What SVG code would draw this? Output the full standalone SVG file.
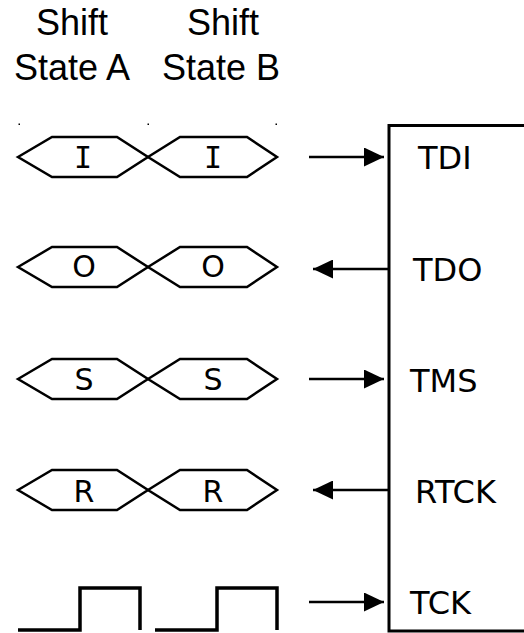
<svg xmlns="http://www.w3.org/2000/svg" width="524" height="633" viewBox="0 0 524 633">
  <style>
    .hdr { font-family: "Liberation Sans", Arial, sans-serif; font-size: 36px; fill: #000; text-anchor: middle; }
    .sym { font-family: "DejaVu Sans", Verdana, sans-serif; font-size: 30px; fill: #000; text-anchor: middle; }
    .symI { font-family: "DejaVu Sans Mono", "DejaVu Sans", monospace; font-size: 30px; fill: #000; text-anchor: middle; }
    .pin { font-family: "DejaVu Sans", Verdana, sans-serif; font-size: 32px; fill: #000; }
    .hex { fill: none; stroke: #000; stroke-width: 2.5; stroke-linejoin: miter; }
    .wire { fill: none; stroke: #000; stroke-width: 2.5; }
    .clk { fill: none; stroke: #000; stroke-width: 3.5; stroke-linejoin: miter; }
    .box { fill: none; stroke: #000; stroke-width: 3; }
  </style>
  <defs>
    <marker id="head" markerWidth="20" markerHeight="19" refX="20" refY="9.5" orient="auto" markerUnits="userSpaceOnUse">
      <path d="M0,0 L20,9.5 L0,19 Z" fill="#000"/>
    </marker>
    <!-- two-cell shift register symbol, centred vertically on y=0 -->
    <g id="cells">
      <path class="hex" d="M18,0 L52,-20 L117,-20 L148,0 L117,20 L52,20 Z"/>
      <path class="hex" d="M148,0 L180,-20 L247,-20 L277,0 L247,20 L180,20 Z"/>
    </g>
  </defs>

  <g id="header">
    <text class="hdr" x="72" y="35">Shift</text>
    <text class="hdr" x="72" y="80">State A</text>
    <text class="hdr" x="223" y="35">Shift</text>
    <text class="hdr" x="221" y="80">State B</text>
  </g>

  <g id="ticks" fill="#000">
    <rect x="18.5" y="123.5" width="1.5" height="1.5"/>
    <rect x="147.5" y="123.5" width="1.5" height="1.5"/>
    <rect x="275.5" y="123.5" width="1.5" height="1.5"/>
  </g>

  <g id="tdi-cells">
    <use href="#cells" y="157"/>
    <text class="symI" x="83" y="168">I</text>
    <text class="symI" x="213" y="168">I</text>
  </g>
  <g id="tdo-cells">
    <use href="#cells" y="267"/>
    <text class="sym" x="84" y="277">O</text>
    <text class="sym" x="213" y="277">O</text>
  </g>
  <g id="tms-cells">
    <use href="#cells" y="379"/>
    <text class="sym" x="84" y="390">S</text>
    <text class="sym" x="213" y="390">S</text>
  </g>
  <g id="rtck-cells">
    <use href="#cells" y="490"/>
    <text class="sym" x="84" y="502">R</text>
    <text class="sym" x="213" y="502">R</text>
  </g>
  <g id="tck-wave">
    <path class="clk" d="M18,630 H80 V588 H140 V630"/>
    <path class="clk" d="M155,630 H217 V588 H277 V630"/>
  </g>

  <g id="target">
    <path class="box" d="M524,125.5 H389 V631 H524"/>
    <text class="pin" x="418" y="169">TDI</text>
    <text class="pin" x="413" y="281">TDO</text>
    <text class="pin" x="410" y="392">TMS</text>
    <text class="pin" x="415" y="503">RTCK</text>
    <text class="pin" x="410" y="614">TCK</text>
  </g>

  <g id="connectors">
    <line class="wire" x1="309" y1="157" x2="384" y2="157" marker-end="url(#head)"/>
    <line class="wire" x1="388" y1="269" x2="313" y2="269" marker-end="url(#head)"/>
    <line class="wire" x1="309" y1="379" x2="384" y2="379" marker-end="url(#head)"/>
    <line class="wire" x1="388" y1="490" x2="313" y2="490" marker-end="url(#head)"/>
    <line class="wire" x1="309" y1="602" x2="384" y2="602" marker-end="url(#head)"/>
  </g>
</svg>
